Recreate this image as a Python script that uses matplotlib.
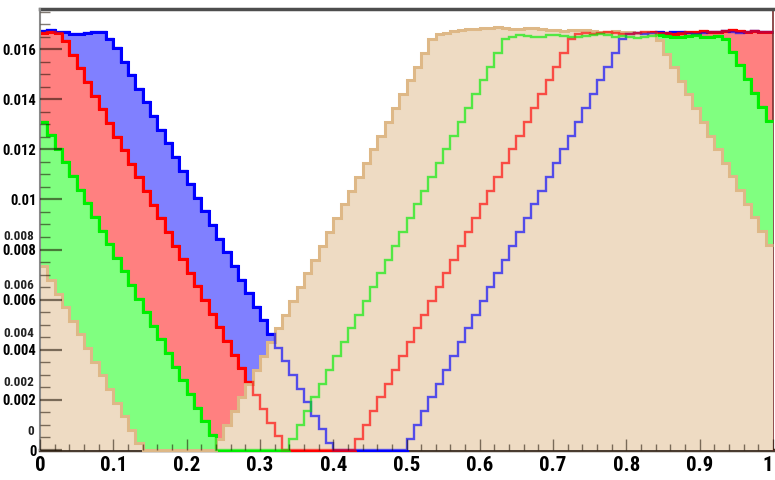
import numpy as np
import matplotlib.pyplot as plt
from matplotlib import font_manager
from matplotlib.ticker import MultipleLocator, FixedLocator
import matplotlib.transforms as mtransforms

# bin contents (100 bins on [0, 1]), units of 1e-5
blue = [1672, 1675, 1670, 1668, 1662, 1660, 1666, 1670, 1668, 1640,
        1605, 1550, 1496, 1442, 1387, 1333, 1278, 1224, 1170, 1115,
        1061, 1006, 952, 898, 843, 789, 734, 680, 626, 571,
        517, 462, 408, 354, 299, 245, 190, 136, 82, 27,
        0, 0, 0, 0, 0, 0, 0, 0, 0, 0,
        45, 100, 155, 210, 265, 320, 375, 430, 485, 540,
        595, 650, 705, 760, 815, 870, 925, 980, 1035, 1090,
        1145, 1200, 1255, 1310, 1365, 1420, 1475, 1530, 1585, 1640,
        1662, 1666, 1660, 1664, 1668, 1665, 1670, 1668, 1664, 1662,
        1666, 1670, 1668, 1672, 1670, 1666, 1668, 1672, 1670, 1668]

red = [1665, 1668, 1664, 1632, 1578, 1523, 1469, 1414, 1360, 1306,
       1251, 1197, 1142, 1088, 1034, 979, 925, 870, 816, 762,
       707, 653, 598, 544, 490, 435, 381, 326, 272, 218,
       163, 109, 54, 0, 0, 0, 0, 0, 0, 0,
       0, 0, 0, 45, 100, 155, 210, 265, 320, 375,
       430, 485, 540, 595, 650, 705, 760, 815, 870, 925,
       980, 1035, 1090, 1145, 1200, 1255, 1310, 1365, 1420, 1475,
       1530, 1585, 1640, 1660, 1664, 1662, 1666, 1668, 1664, 1660,
       1662, 1665, 1668, 1670, 1666, 1664, 1662, 1666, 1668, 1670,
       1672, 1670, 1668, 1672, 1675, 1672, 1670, 1673, 1670, 1668]

green = [1311, 1257, 1202, 1148, 1094, 1039, 985, 930, 876, 822,
         767, 713, 658, 604, 550, 495, 441, 386, 332, 278,
         223, 169, 114, 60, 0, 0, 0, 0, 0, 0,
         0, 0, 0, 0, 45, 100, 155, 210, 265, 320,
         375, 430, 485, 540, 595, 650, 705, 760, 815, 870,
         925, 980, 1035, 1090, 1145, 1200, 1255, 1310, 1365, 1420,
         1475, 1530, 1585, 1640, 1650, 1655, 1652, 1648, 1650, 1655,
         1658, 1654, 1650, 1648, 1652, 1656, 1660, 1655, 1650, 1652,
         1648, 1645, 1650, 1654, 1656, 1652, 1650, 1648, 1652, 1655,
         1650, 1648, 1652, 1640, 1590, 1535, 1480, 1425, 1370, 1315]

tan = [733, 679, 624, 570, 515, 461, 407, 352, 298, 243,
       189, 135, 80, 26, 0, 0, 0, 0, 0, 0,
       0, 0, 0, 0, 45, 100, 155, 210, 265, 320,
       375, 430, 485, 540, 595, 650, 705, 760, 815, 870,
       925, 980, 1035, 1090, 1145, 1200, 1255, 1310, 1365, 1420,
       1475, 1530, 1585, 1640, 1660, 1665, 1672, 1678, 1680, 1682,
       1684, 1686, 1688, 1685, 1682, 1680, 1684, 1686, 1682, 1678,
       1675, 1672, 1675, 1678, 1676, 1672, 1670, 1668, 1672, 1670,
       1668, 1665, 1668, 1664, 1636, 1582, 1528, 1474, 1419, 1364,
       1310, 1255, 1201, 1147, 1092, 1038, 983, 929, 874, 820]

scale = 1e-5
edges = np.linspace(0, 1, 101)

ytick_vals = [0, 0.002, 0.004, 0.006, 0.008, 0.010, 0.012, 0.014, 0.016]
ytick_labels = ["0", "0.002", "0.004", "0.006", "0.008", "0.01", "0.012", "0.014", "0.016"]
# second (shifted) label set, only visible apart from the first one low down
ytick2_vals = [0, 0.002, 0.004, 0.006, 0.008]
ytick2_labels = ["0", "0.002", "0.004", "0.006", "0.008"]
xtick_vals = [0, 0.1, 0.2, 0.3, 0.4, 0.5, 0.6, 0.7, 0.8, 0.9, 1.0]
xtick_labels = ["0", "0.1", "0.2", "0.3", "0.4", "0.5", "0.6", "0.7", "0.8", "0.9", "1"]

# narrow bold font, if one is there
names = {f.name for f in font_manager.fontManager.ttflist}
narrow = 'DejaVu Sans'
for n in ['Liberation Sans Narrow', 'Roboto Condensed', 'Open Sans Condensed', 'Liberation Sans']:
    if n in names:
        narrow = n
        break
font = [narrow, 'DejaVu Sans']

fig = plt.figure(figsize=(7.75, 4.8), dpi=100)
ax = fig.add_axes([40 / 775, 30 / 480, 733 / 775, 441 / 480])

hists = [(blue, '#8080ff', '#0000ff'),
         (red, '#ff8080', '#ff0000'),
         (green, '#80ff80', '#00ee00'),
         (tan, '#eedbc3', '#deb887')]

z = 1
for vals, fc, lc in hists:
    v = np.array(vals) * scale
    ax.stairs(v, edges, fill=True, facecolor=fc, edgecolor='none', lw=0, baseline=0, zorder=z)
    ax.stairs(v, edges, baseline=None, color=lc, lw=2.2, zorder=z + 0.5, clip_on=False)
    z += 1

# the hidden outlines still show through the tan area
for vals, fc, lc in hists[:3]:
    v = np.array(vals) * scale
    ax.stairs(v, edges, baseline=None, color=lc, lw=1.7, alpha=0.65, zorder=z, clip_on=False)

ax.set_xlim(0, 1)
ax.set_ylim(0, 0.0176)

ax.xaxis.set_major_locator(FixedLocator(xtick_vals))
ax.set_xticklabels(xtick_labels, family=font, weight='bold', fontsize=15)
ax.get_xticklabels()[-1].set_ha('right')
ax.xaxis.set_minor_locator(MultipleLocator(0.02))
ax.yaxis.set_major_locator(FixedLocator(ytick_vals))
ax.set_yticklabels(ytick_labels, family=font, weight='bold', fontsize=10.5)
ax.yaxis.set_minor_locator(MultipleLocator(0.0005))

tick_col = (0.1, 0.05, 0.0, 0.55)
ax.tick_params(axis='both', which='both', direction='in', top=False, right=False, color=tick_col)
ax.tick_params(axis='y', which='major', length=16, width=1.6, pad=2.5)
ax.tick_params(axis='y', which='minor', length=7, width=1.0)
ax.tick_params(axis='x', which='major', length=8, width=1.0, pad=4)
ax.tick_params(axis='x', which='minor', length=4, width=1.0)
ax.xaxis.set_zorder(10)
ax.yaxis.set_zorder(10)

trans = mtransforms.blended_transform_factory(ax.transAxes, ax.transData)
for val, lab in zip(ytick2_vals, ytick2_labels):
    ax.text(-6 / 733, 0.00075 + 0.97 * val, lab, transform=trans, ha='right', va='center',
            family=font, weight='bold', fontsize=9.5, color='#222222')

ax.spines['top'].set_color('#4d4d4d')
ax.spines['top'].set_linewidth(2.5)
ax.spines['left'].set_color('#8a8a8a')
ax.spines['left'].set_linewidth(1.5)
ax.spines['left'].set_zorder(10)
ax.spines['bottom'].set_color('#4a3c30')
ax.spines['bottom'].set_linewidth(2.5)
ax.spines['bottom'].set_zorder(0.5)
ax.spines['right'].set_color('#7a3030')
ax.spines['right'].set_linewidth(1.2)

fig.savefig('out.png', dpi=100)
